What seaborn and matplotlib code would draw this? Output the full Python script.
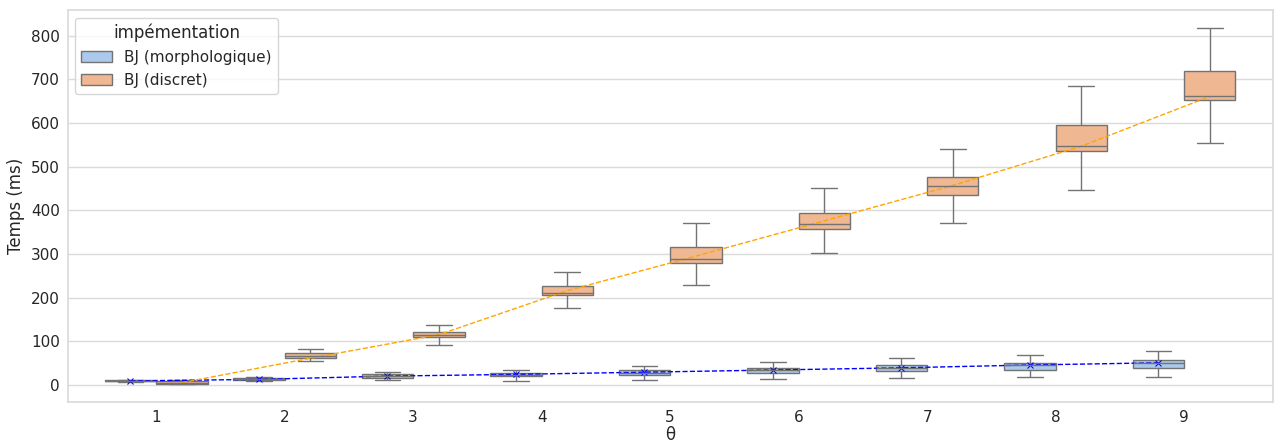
import numpy as np
import pandas as pd
import matplotlib
matplotlib.use("Agg")
import matplotlib.pyplot as plt
import seaborn as sns

# Paramètre θ et les deux implémentations comparées
theta = [1, 2, 3, 4, 5, 6, 7, 8, 9]
impl_names = ["BJ (morphologique)", "BJ (discret)"]

# Résumé en cinq valeurs des temps (ms) : min, Q1, médiane, Q3, max
morph_lo = [7, 9, 11, 9.5, 11, 12.5, 15, 17, 18.5]
morph_q1 = [8.5, 10, 16, 19.5, 23.5, 27.5, 31.5, 35, 39.5]
morph_med = [9.5, 12.5, 20, 23.5, 28, 33, 37.5, 45, 49]
morph_q3 = [10.5, 16, 24, 27.5, 33, 38.5, 44.5, 50.5, 56]
morph_hi = [12, 17.5, 30, 35, 44, 52.5, 62, 69, 77.5]

disc_lo = [1, 54, 92, 175, 228, 303, 372, 447, 555]
disc_q1 = [3, 62, 110, 205, 280, 357, 435, 535, 652]
disc_med = [5, 67, 115, 211, 289, 369, 455, 547, 662]
disc_q3 = [8, 72, 122, 226, 316, 395, 477, 596, 719]
disc_hi = [11, 82, 138, 258, 370, 451, 541, 684, 818]

# Temps moyens (ms), reliés par les courbes en pointillés
morph_mean = [9, 12.5, 20, 24, 29, 34, 39, 45.5, 50.5]
disc_mean = [5, 61, 115, 216, 295, 376, 457, 547, 661]

rows = []
for name, stats in [
    (impl_names[0], [morph_lo, morph_q1, morph_med, morph_q3, morph_hi]),
    (impl_names[1], [disc_lo, disc_q1, disc_med, disc_q3, disc_hi]),
]:
    for i, t in enumerate(theta):
        for s in stats:
            rows.append({"θ": t, "Temps (ms)": s[i], "impémentation": name})
df = pd.DataFrame(rows)

df_mean = pd.DataFrame({
    "θ": theta + theta,
    "Temps (ms)": morph_mean + disc_mean,
    "impémentation": [impl_names[0]] * len(theta) + [impl_names[1]] * len(theta),
})

sns.set_theme(style="whitegrid", rc={"grid.color": "0.86", "axes.edgecolor": "0.86"})
plt.rcParams["font.family"] = ["DejaVu Sans"]
plt.rcParams["xtick.major.size"] = 0
plt.rcParams["ytick.major.size"] = 0
plt.rcParams["xtick.major.pad"] = 5.6
plt.rcParams["ytick.major.pad"] = 5.6

fig, ax = plt.subplots(figsize=(12.74, 4.42), dpi=100)

sns.boxplot(
    data=df, x="θ", y="Temps (ms)", hue="impémentation",
    hue_order=impl_names, palette="pastel", whis=(0, 100),
    showfliers=False, ax=ax,
)

sns.pointplot(
    data=df_mean, x="θ", y="Temps (ms)", hue="impémentation",
    hue_order=impl_names, palette={impl_names[0]: "blue", impl_names[1]: "orange"},
    dodge=0.4, markers=["x", ""], linestyles="--", errorbar=None,
    legend=False, ax=ax, markersize=4, linewidth=1,
)

ax.set_xlim(-0.69, 8.69)
ax.set_xlabel("θ", labelpad=1)
ax.set_ylabel("Temps (ms)")
sns.move_legend(ax, "upper left", title="impémentation")

fig.subplots_adjust(left=0.053, right=0.999, top=0.977, bottom=0.09)
fig.savefig("out.png", dpi=100)
